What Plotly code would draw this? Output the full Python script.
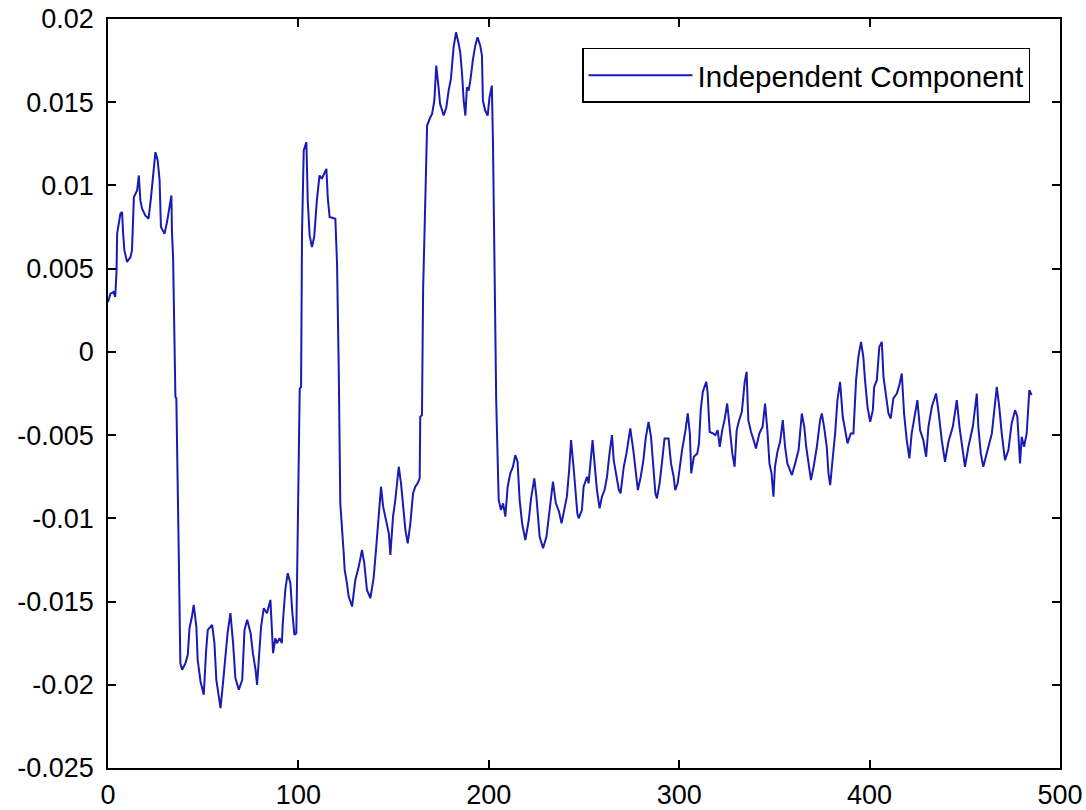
import plotly.graph_objects as go

# Sample index (x) and component amplitude (y)
sample_index = [
    0, 1.3, 2.9, 3.8, 4.5, 4.8, 6.5, 7.4, 7.9, 8.6, 10.0, 11.8, 12.6, 13.6, 15.3, 16.2, 17.0, 17.9, 19.6, 21.3,
    22.6, 24.0, 24.9, 26.1, 27.1, 27.8, 29.7, 31.0, 32.4, 33.3, 33.6, 34.2, 35.4, 35.9, 37.2, 38.0,
    38.9, 40.7, 41.9, 42.8, 44.1, 45.0, 46.4, 47.1, 48.6, 50.3, 51.5, 52.4, 54.7, 55.9, 56.9, 58.1, 59.1,
    60.4, 61.6, 62.8, 64.3, 65.7, 66.9, 68.7, 70.5, 71.7, 73.1, 74.9, 76.1, 77.5, 78.3, 79.2, 80.4, 81.8,
    83.5, 85.3, 86.2, 86.7, 87.9, 88.7, 90.1, 91.3, 91.8, 93.2, 94.4, 95.8, 96.7, 97.9, 98.9, 99.7, 100.7,
    101.4, 101.9, 102.8, 104.2, 104.9, 105.9, 107.1, 108.3, 109.7, 111.1, 112.3, 113.2, 114.7, 115.4, 116.4,
    119.4, 120.3, 121.2, 122.0, 123.8, 124.3, 125.5, 126.4, 128.2, 129.9, 131.7, 133.4, 134.6, 136.0, 137.8,
    139.5, 140.9, 142.1, 143.4, 144.5, 145.7, 147.5, 148.3, 149.7, 150.9, 152.7, 153.9, 155.4, 156.2, 157.4,
    158.8, 160.2, 161.4, 162.6, 163.7, 164.0, 164.9, 165.5, 166.7, 167.6, 169.3, 170.2, 171.4, 172.4, 173.6,
    174.4, 176.3, 177.7, 178.9, 180.1, 181.5, 182.8, 184.2, 185.0, 185.9, 186.8, 187.7, 188.5, 189.4, 190.3,
    191.7, 192.9, 194.1, 195.5, 196.4, 196.9, 198.1, 199.4, 200.4, 201.6, 202.2, 202.9, 203.9, 205.2, 206.4,
    207.5, 208.7, 209.9, 211.3, 212.7, 213.9, 215.1, 216.2, 217.5, 219.2, 221.0, 222.2, 223.9, 225.0, 226.7,
    228.5, 230.3, 231.5, 232.4, 233.7, 235.2, 236.9, 238.2, 239.6, 241.0, 242.2, 243.2, 244.5, 245.5, 246.5,
    247.2, 248.9, 249.8, 251.6, 252.4, 253.7, 254.5, 255.4, 256.8, 258.2, 259.4, 260.8, 262.1, 263.5, 264.7,
    265.6, 267.0, 268.3, 269.2, 270.9, 272.3, 273.6, 274.3, 275.9, 277.1, 278.3, 279.8, 281.2, 282.4, 283.9,
    285.2, 286.3, 287.5, 288.3, 289.7, 290.9, 292.3, 294.4, 295.7, 297.1, 297.9, 299.2, 300.6, 301.5, 303.3,
    304.5, 305.6, 306.3, 307.7, 309.5, 310.4, 311.3, 312.4, 314.2, 314.9, 316.0, 317.7, 319.0, 320.2, 321.3,
    322.6, 323.8, 325.2, 326.5, 327.9, 329.1, 330.2, 331.5, 332.9, 334.4, 335.4, 336.3, 337.7, 339.1, 340.3,
    342.1, 343.8, 345.1, 346.3, 347.4, 348.5, 349.5, 350.3, 351.6, 353.0, 354.4, 355.6, 356.8, 359.2, 360.9,
    362.7, 364.4, 365.7, 366.7, 368.0, 369.2, 370.6, 372.3, 374.0, 374.9, 376.1, 377.5, 378.4, 379.3, 380.7,
    381.9, 383.1, 384.5, 385.9, 387.1, 388.4, 390.1, 391.5, 392.9, 394.1, 395.5, 396.7, 397.6, 398.9, 400.3,
    401.7, 402.4, 403.8, 405.1, 406.4, 407.3, 408.7, 409.9, 411.1, 412.5, 414.3, 415.6, 416.9, 418.1, 419.5,
    420.9, 422.1, 423.9, 425.1, 426.5, 428.2, 429.7, 430.9, 432.7, 434.9, 436.1, 437.9, 439.6, 441.4, 443.7,
    445.8, 447.2, 448.9, 450.1, 451.9, 454.2, 456.3, 457.1, 458.4, 459.7, 461.5, 464.2, 466.8, 468.1, 469.4,
    471.1, 472.9, 474.6, 476.4, 477.6, 479.0, 479.9, 481.1, 482.5, 483.9, 485.1,
]

amplitude = [
    0.0030, 0.0035, 0.0036, 0.0033, 0.0049, 0.0071, 0.0083, 0.0084, 0.0072, 0.0061, 0.0054, 0.0057, 0.0061, 0.0093, 0.0097, 0.0106, 0.0091, 0.0086, 0.0082, 0.0080,
    0.0093, 0.0112, 0.0120, 0.0115, 0.0103, 0.0075, 0.0071, 0.0078, 0.0089, 0.0094, 0.0072, 0.0056, -0.0027, -0.0028, -0.0124, -0.0187,
    -0.0191, -0.0187, -0.0182, -0.0166, -0.0159, -0.0152, -0.0165, -0.0185, -0.0198, -0.0206, -0.0180, -0.0167, -0.0164, -0.0175, -0.0197, -0.0205, -0.0214,
    -0.0199, -0.0185, -0.0169, -0.0157, -0.0175, -0.0196, -0.0203, -0.0197, -0.0167, -0.0161, -0.0169, -0.0181, -0.0191, -0.0200, -0.0183, -0.0165, -0.0154,
    -0.0157, -0.0149, -0.0169, -0.0181, -0.0172, -0.0175, -0.0172, -0.0175, -0.0163, -0.0142, -0.0133, -0.0139, -0.0155, -0.0170, -0.0169, -0.0115, -0.0022,
    -0.0021, 0.0071, 0.0121, 0.0126, 0.0091, 0.0070, 0.0063, 0.0069, 0.0091, 0.0106, 0.0104, 0.0106, 0.0110, 0.0093, 0.0081,
    0.0080, 0.0053, -0.0011, -0.0091, -0.0121, -0.0131, -0.0139, -0.0147, -0.0153, -0.0137, -0.0129, -0.0119, -0.0127, -0.0143, -0.0148,
    -0.0136, -0.0117, -0.0099, -0.0081, -0.0093, -0.0099, -0.0109, -0.0122, -0.0099, -0.0089, -0.0069, -0.0079, -0.0095, -0.0107, -0.0115,
    -0.0103, -0.0085, -0.0081, -0.0079, -0.0076, -0.0039, -0.0038, 0.0037, 0.0105, 0.0136, 0.0141, 0.0143, 0.0151, 0.0172, 0.0159,
    0.0149, 0.0142, 0.0147, 0.0157, 0.0164, 0.0183, 0.0192, 0.0185, 0.0180, 0.0168, 0.0151, 0.0142, 0.0159, 0.0157, 0.0163,
    0.0176, 0.0184, 0.0189, 0.0184, 0.0178, 0.0151, 0.0145, 0.0142, 0.0153, 0.0160, 0.0125, 0.0048, -0.0030, -0.0089, -0.0095,
    -0.0091, -0.0099, -0.0081, -0.0073, -0.0069, -0.0062, -0.0066, -0.0089, -0.0103, -0.0113, -0.0101, -0.0088, -0.0076, -0.0087, -0.0111,
    -0.0118, -0.0111, -0.0099, -0.0087, -0.0078, -0.0091, -0.0096, -0.0103, -0.0095, -0.0087, -0.0071, -0.0053, -0.0069, -0.0081, -0.0097,
    -0.0100, -0.0095, -0.0081, -0.0075, -0.0079, -0.0063, -0.0053, -0.0065, -0.0083, -0.0094, -0.0087, -0.0083, -0.0075, -0.0060, -0.0050,
    -0.0065, -0.0075, -0.0083, -0.0085, -0.0069, -0.0061, -0.0051, -0.0046, -0.0059, -0.0071, -0.0083, -0.0075, -0.0065, -0.0052, -0.0042,
    -0.0051, -0.0069, -0.0085, -0.0088, -0.0079, -0.0067, -0.0052, -0.0052, -0.0067, -0.0075, -0.0083, -0.0079, -0.0067, -0.0059, -0.0047,
    -0.0037, -0.0049, -0.0073, -0.0063, -0.0061, -0.0055, -0.0035, -0.0024, -0.0018, -0.0024, -0.0048, -0.0049, -0.0050, -0.0047, -0.0057,
    -0.0047, -0.0041, -0.0031, -0.0045, -0.0061, -0.0069, -0.0047, -0.0041, -0.0036, -0.0018, -0.0012, -0.0041, -0.0048, -0.0053, -0.0058,
    -0.0049, -0.0045, -0.0031, -0.0047, -0.0067, -0.0073, -0.0087, -0.0069, -0.0060, -0.0054, -0.0041, -0.0057, -0.0067, -0.0074, -0.0067,
    -0.0059, -0.0037, -0.0045, -0.0057, -0.0069, -0.0077, -0.0069, -0.0057, -0.0041, -0.0037, -0.0045, -0.0057, -0.0073, -0.0080, -0.0063,
    -0.0049, -0.0029, -0.0018, -0.0039, -0.0047, -0.0055, -0.0049, -0.0049, -0.0017, -0.0003, 0.0006, -0.0003, -0.0017, -0.0033, -0.0042,
    -0.0035, -0.0021, -0.0017, 0.0003, 0.0006, -0.0015, -0.0027, -0.0037, -0.0040, -0.0028, -0.0025, -0.0020, -0.0013, -0.0037, -0.0053,
    -0.0064, -0.0049, -0.0037, -0.0029, -0.0047, -0.0053, -0.0063, -0.0045, -0.0033, -0.0025, -0.0035, -0.0053, -0.0066, -0.0054, -0.0045,
    -0.0029, -0.0045, -0.0059, -0.0069, -0.0057, -0.0045, -0.0025, -0.0045, -0.0061, -0.0069, -0.0061, -0.0049, -0.0021, -0.0033, -0.0049,
    -0.0065, -0.0059, -0.0043, -0.0035, -0.0039, -0.0067, -0.0051, -0.0057, -0.0049, -0.0023, -0.0026,
]

x_tick_values = [0, 100, 200, 300, 400, 500]
x_tick_labels = ["0", "100", "200", "300", "400", "500"]
y_tick_values = [0.02, 0.015, 0.01, 0.005, 0, -0.005, -0.01, -0.015, -0.02, -0.025]
y_tick_labels = ["0.02", "0.015", "0.01", "0.005", "0", "-0.005", "-0.01", "-0.015", "-0.02", "-0.025"]

series_name = "Independent Component"
line_color = "#1a1ab4"
FONT = "Liberation Sans, Arial, Helvetica, sans-serif"

fig = go.Figure()
fig.add_trace(go.Scatter(
    x=sample_index, y=amplitude, mode="lines", name=series_name,
    line=dict(color=line_color, width=2),
))

axis_common = dict(
    showline=True, linecolor="black", linewidth=1.5, mirror="ticks",
    ticks="inside", ticklen=8, tickwidth=1.5, tickcolor="black",
    showgrid=False, zeroline=False, automargin=False,
    tickfont=dict(family=FONT, size=27, color="black"),
)

fig.update_layout(
    width=1086, height=810,
    margin=dict(l=108, r=26, t=19, b=42, autoexpand=False),
    paper_bgcolor="white", plot_bgcolor="white",
    showlegend=True,
    legend=dict(
        x=0.9685, y=0.9613, xanchor="right", yanchor="top",
        bgcolor="white", bordercolor="black", borderwidth=1.5,
        font=dict(family=FONT, size=29.6, color="black"),
        itemwidth=104,
    ),
    xaxis=dict(range=[0, 500], tickvals=x_tick_values, ticktext=x_tick_labels,
               ticklabelstandoff=2, **axis_common),
    yaxis=dict(range=[-0.025, 0.02], tickvals=y_tick_values, ticktext=y_tick_labels,
               ticklabelstandoff=7, **axis_common),
)

fig.write_html("out.html")
